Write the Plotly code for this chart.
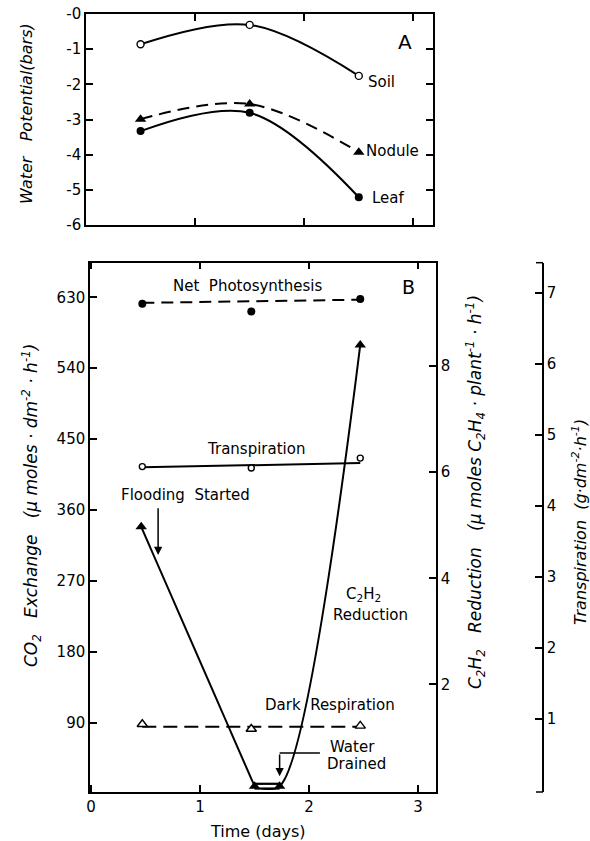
import plotly.graph_objects as go

W, H = 590, 841

# ---- Panel A: water potential (bars) ----
days_a = [0.5, 1.5, 2.5]
soil = [-0.86, -0.31, -1.76]
nodule = [-2.99, -2.56, -3.93]
leaf = [-3.33, -2.81, -5.21]
wp_ticks = [0, -1, -2, -3, -4, -5, -6]
wp_ticktext = ["-0", "-1", "-2", "-3", "-4", "-5", "-6"]
day_ticks_a = [1, 2, 3]

# ---- Panel B: gas exchange, transpiration and C2H2 reduction ----
days_b = [0.47, 1.47, 2.47]
fit_days = [0.47, 2.47]
net_ps = [622, 612, 628]            # umol CO2 dm-2 h-1
net_ps_fit = [623, 627]
dark_resp = [88, 82, 86]            # umol CO2 dm-2 h-1
dark_resp_fit = [85, 85]
transp = [4.55, 4.53, 4.67]         # g dm-2 h-1
transp_fit = [4.54, 4.60]
c2h2_days = [0.46, 1.50, 1.73, 2.47]
c2h2 = [4.97, 0.08, 0.08, 8.40]     # umol C2H4 plant-1 h-1
flood_day = 0.615

co2_ticks = [90, 180, 270, 360, 450, 540, 630]
c2h2_ticks = [2, 4, 6, 8]
transp_ticks = [1, 2, 3, 4, 5, 6, 7]
day_ticks_b = [0, 1, 2, 3]
day_ticktext_b = ["0", "1", "2", "3"]


def px(x):
    return x / W


def py(y):
    return 1 - y / H


FONT = "DejaVu Sans"
BLACK = "black"
DASH = "12px,7px"

fig = go.Figure()

# Panel A curves
fig.add_trace(go.Scatter(
    x=days_a, y=soil, mode="lines+markers", xaxis="x", yaxis="y",
    line=dict(color=BLACK, width=2, shape="spline"),
    marker=dict(symbol="circle", size=7, color="white", line=dict(color=BLACK, width=1.4)),
    cliponaxis=False))
fig.add_trace(go.Scatter(
    x=days_a, y=nodule, mode="lines+markers", xaxis="x", yaxis="y",
    line=dict(color=BLACK, width=2, shape="spline", dash=DASH),
    marker=dict(symbol="triangle-up", size=10, color=BLACK),
    cliponaxis=False))
fig.add_trace(go.Scatter(
    x=days_a, y=leaf, mode="lines+markers", xaxis="x", yaxis="y",
    line=dict(color=BLACK, width=2, shape="spline"),
    marker=dict(symbol="circle", size=8, color=BLACK),
    cliponaxis=False))

# Panel B: net photosynthesis
fig.add_trace(go.Scatter(
    x=fit_days, y=net_ps_fit, mode="lines", xaxis="x2", yaxis="y2",
    line=dict(color=BLACK, width=2, dash=DASH)))
fig.add_trace(go.Scatter(
    x=days_b, y=net_ps, mode="markers", xaxis="x2", yaxis="y2",
    marker=dict(symbol="circle", size=8, color=BLACK), cliponaxis=False))

# Dark respiration
fig.add_trace(go.Scatter(
    x=fit_days, y=dark_resp_fit, mode="lines", xaxis="x2", yaxis="y2",
    line=dict(color=BLACK, width=2, dash="14px,7px")))
fig.add_trace(go.Scatter(
    x=days_b, y=dark_resp, mode="markers", xaxis="x2", yaxis="y2",
    marker=dict(symbol="triangle-up", size=9, color="white", line=dict(color=BLACK, width=1.4)),
    cliponaxis=False))

# Transpiration (own axis)
fig.add_trace(go.Scatter(
    x=fit_days, y=transp_fit, mode="lines", xaxis="x2", yaxis="y4",
    line=dict(color=BLACK, width=2)))
fig.add_trace(go.Scatter(
    x=days_b, y=transp, mode="markers", xaxis="x2", yaxis="y4",
    marker=dict(symbol="circle", size=6, color="white", line=dict(color=BLACK, width=1.4)),
    cliponaxis=False))

# C2H2 reduction (own axis): fall during flooding, recovery after draining
fig.add_trace(go.Scatter(
    x=c2h2_days[:2], y=c2h2[:2], mode="lines", xaxis="x2", yaxis="y3",
    line=dict(color=BLACK, width=2)))
fig.add_trace(go.Scatter(
    x=c2h2_days[1:], y=c2h2[1:], mode="lines", xaxis="x2", yaxis="y3",
    line=dict(color=BLACK, width=2, shape="spline", smoothing=0.85), cliponaxis=True))
fig.add_trace(go.Scatter(
    x=c2h2_days[1:3], y=c2h2[1:3], mode="lines", xaxis="x2", yaxis="y3",
    line=dict(color=BLACK, width=7), cliponaxis=False))
fig.add_trace(go.Scatter(
    x=c2h2_days[1:3], y=c2h2[1:3], mode="lines", xaxis="x2", yaxis="y3",
    line=dict(color="white", width=2.5), cliponaxis=False))
fig.add_trace(go.Scatter(
    x=c2h2_days, y=c2h2, mode="markers", xaxis="x2", yaxis="y3",
    marker=dict(symbol="triangle-up", size=10, color=BLACK), cliponaxis=False))

axis_common = dict(
    showgrid=False, zeroline=False, showline=True, linecolor=BLACK, linewidth=1.5,
    ticks="inside", ticklen=7, tickwidth=1.5, tickcolor=BLACK, automargin=False,
    tickfont=dict(family=FONT, size=15, color=BLACK), fixedrange=True,
)

fig.update_layout(
    template="none",
    width=W, height=H,
    margin=dict(l=0, r=0, t=0, b=0, pad=0, autoexpand=False),
    paper_bgcolor="white", plot_bgcolor="white",
    showlegend=False,
    font=dict(family=FONT, color=BLACK),
    xaxis=dict(domain=[px(86), px(433)], range=[0, 3.18], anchor="y",
               tickvals=day_ticks_a, showticklabels=False, mirror="ticks", **axis_common),
    yaxis=dict(domain=[py(225), py(14)], range=[-6, 0], anchor="x",
               tickvals=wp_ticks, ticktext=wp_ticktext, mirror="ticks", **axis_common),
    xaxis2=dict(domain=[px(90), px(436)], range=[-0.01, 3.165], anchor="y2",
                tickvals=day_ticks_b, ticktext=day_ticktext_b, mirror="ticks", **axis_common),
    yaxis2=dict(domain=[py(792), py(262.7)], range=[2, 674], anchor="x2", side="left",
                tickvals=co2_ticks, **axis_common),
    yaxis3=dict(overlaying="y2", side="right", anchor="x2", range=[-0.03, 9.95],
                tickvals=c2h2_ticks, **axis_common),
    yaxis4=dict(overlaying="y2", side="right", anchor="free", position=px(543),
                range=[-0.03, 7.42], tickvals=transp_ticks, **axis_common),
)

# End caps on the free transpiration axis
for yy in (262.7, 792):
    fig.add_shape(type="line", xref="paper", yref="paper",
                  x0=px(536), x1=px(543), y0=py(yy), y1=py(yy),
                  line=dict(color=BLACK, width=1.5))

# Water-drained pointer: horizontal leader then downward arrow
drain_day = c2h2_days[2]
fig.add_shape(type="line", xref="x2", yref="y2",
              x0=drain_day, x1=2.10, y0=51.5, y1=51.5,
              line=dict(color=BLACK, width=1.5))
fig.add_annotation(x=drain_day, y=22, ax=drain_day, ay=51.5, xref="x2", yref="y2",
                   axref="x2", ayref="y2", text="", showarrow=True,
                   arrowhead=2, arrowsize=1.1, arrowwidth=1.5, arrowcolor=BLACK)
# Flooding-started arrow
fig.add_annotation(x=flood_day, y=303, ax=flood_day, ay=364, xref="x2", yref="y2",
                   axref="x2", ayref="y2", text="", showarrow=True,
                   arrowhead=2, arrowsize=1.1, arrowwidth=1.5, arrowcolor=BLACK)


def label(text, x, y, size=15, angle=0):
    fig.add_annotation(text=text, x=px(x), y=py(y), xref="paper", yref="paper",
                       showarrow=False, xanchor="center", yanchor="middle",
                       textangle=angle, font=dict(family=FONT, size=size, color=BLACK))


NB = "\u00a0"
label("A", 405, 42, size=20)
label("Soil", 381, 82)
label("Nodule", 392, 151)
label("Leaf", 388, 198)
label("B", 409, 287, size=19)
label("Net" + NB * 2 + "Photosynthesis", 247, 286)
label("Transpiration", 256, 449)
label("Flooding" + NB * 2 + "Started", 185, 495)
label("C<sub>2</sub>H<sub>2</sub>", 363, 594)
label("Reduction", 370, 615)
label("Dark" + NB * 2 + "Respiration", 330, 705)
label("Water", 352, 747)
label("Drained", 356, 764)
label("Time (days)", 258, 831, size=16)

label("<i>Water" + NB * 3 + "Potential(bars)</i>", 27, 114, size=16, angle=-90)
label("<i>CO<sub>2</sub>" + NB * 3 + "Exchange" + NB * 3 + "(μ" + NB + "moles" + NB + "·" + NB
      + "dm<sup>-2</sup>" + NB + "·" + NB + "h<sup>-1</sup>)</i>",
      31, 506, size=17, angle=-90)
label("<i>C<sub>2</sub>H<sub>2</sub>" + NB * 3 + "Reduction" + NB * 3 + "(μ" + NB
      + "moles" + NB + "C<sub>2</sub>H<sub>4</sub>" + NB + "·" + NB + "plant<sup>-1</sup>"
      + NB + "·" + NB + "h<sup>-1</sup>)</i>",
      475, 492, size=17, angle=-90)
label("<i>Transpiration" + NB * 2 + "(g·dm<sup>-2</sup>·h<sup>-1</sup>)</i>", 579, 522, size=16, angle=-90)

fig.write_html("out.html")
